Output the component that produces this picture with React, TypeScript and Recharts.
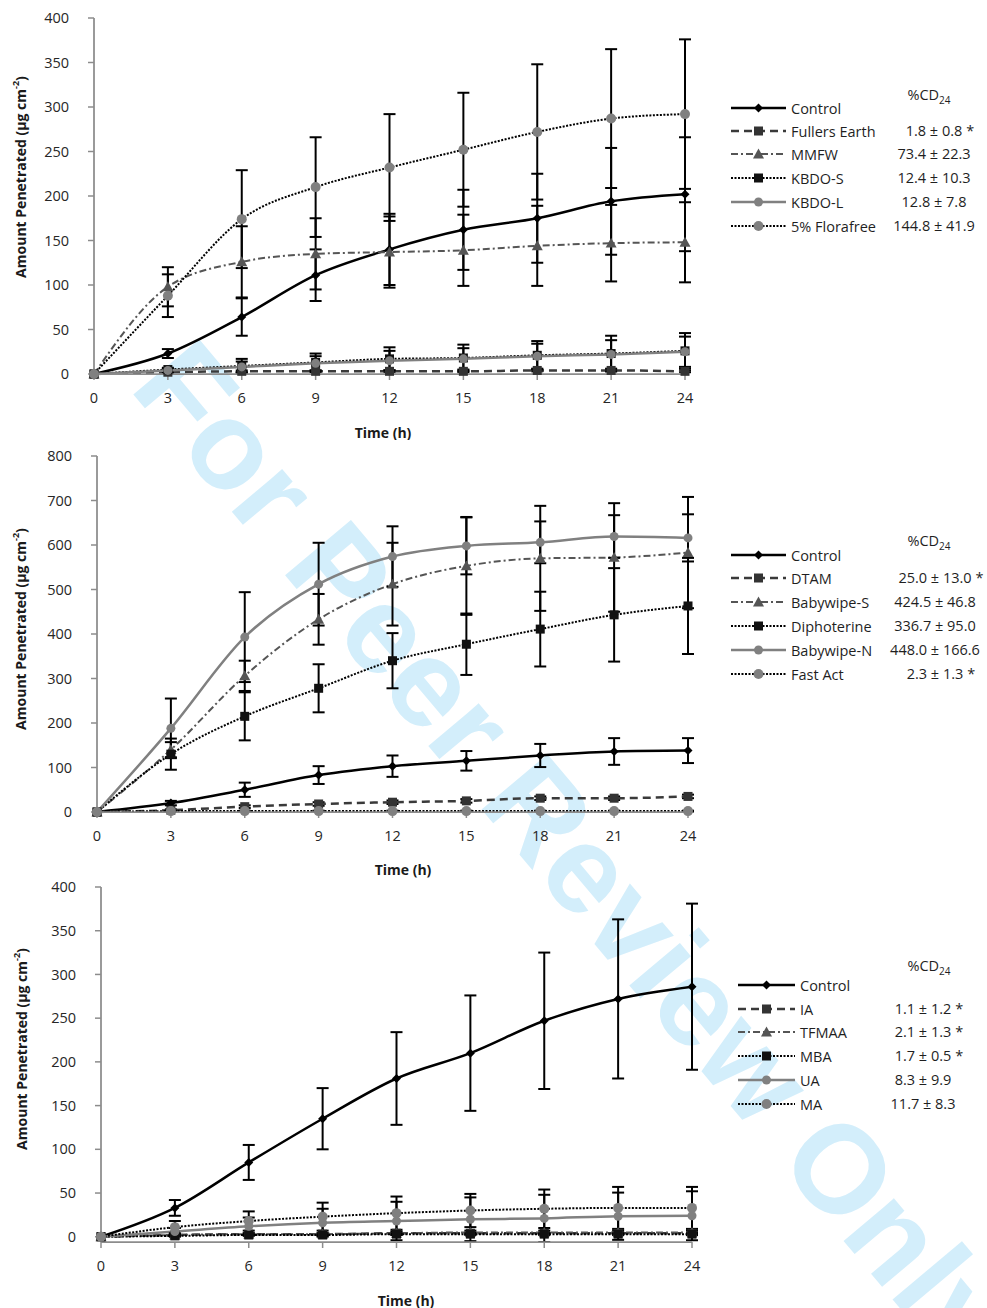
import React from 'react';
import { LineChart, Line, XAxis, YAxis, ErrorBar } from 'recharts';

const hours = [0, 3, 6, 9, 12, 15, 18, 21, 24];

// top panel
const aNames = ['Control', 'Fullers Earth', 'MMFW', 'KBDO-S', 'KBDO-L', '5% Florafree'];
const aCd = ['', '1.8 ± 0.8', '73.4 ± 22.3', '12.4 ± 10.3', '12.8 ± 7.8', '144.8 ± 41.9'];
const aStar = [false, true, false, false, false, false];
const aControl = [0, 23, 64, 111, 140, 162, 175, 194, 202];
const aControlSd = [0, 5, 21, 29, 40, 45, 50, 60, 64];
const aFullers = [0, 2, 3, 3, 3, 3, 4, 4, 3];
const aFullersSd = [0, 1, 1, 1, 1, 1, 1, 1, 1];
const aMmfw = [0, 98, 126, 135, 137, 139, 144, 147, 148];
const aMmfwSd = [0, 22, 40, 40, 40, 40, 45, 43, 45];
const aKbdoS = [0, 5, 9, 13, 17, 18, 21, 23, 26];
const aKbdoSSd = [0, 2, 8, 10, 13, 15, 16, 20, 20];
const aKbdoL = [0, 4, 8, 12, 15, 17, 20, 22, 25];
const aKbdoLSd = [0, 2, 6, 8, 11, 12, 14, 16, 17];
const aFlora = [0, 88, 174, 210, 232, 252, 272, 287, 292];
const aFloraSd = [0, 24, 55, 56, 60, 64, 76, 78, 84];
const aTicks = [0, 50, 100, 150, 200, 250, 300, 350, 400];

// middle panel
const bNames = ['Control', 'DTAM', 'Babywipe-S', 'Diphoterine', 'Babywipe-N', 'Fast Act'];
const bCd = ['', '25.0 ± 13.0', '424.5 ± 46.8', '336.7 ± 95.0', '448.0 ± 166.6', '2.3 ± 1.3'];
const bStar = [false, true, false, false, false, true];
const bControl = [0, 20, 50, 83, 103, 115, 127, 136, 138];
const bControlSd = [0, 5, 16, 20, 24, 22, 26, 30, 28];
const bDtam = [0, 4, 12, 18, 22, 25, 31, 31, 35];
const bDtamSd = [0, 2, 3, 4, 4, 4, 4, 4, 4];
const bBabyS = [0, 140, 306, 433, 512, 553, 570, 572, 583];
const bBabySSd = [0, 17, 34, 57, 93, 110, 118, 122, 125];
const bDipho = [0, 130, 215, 278, 340, 377, 411, 443, 463];
const bDiphoSd = [0, 35, 54, 54, 62, 69, 84, 105, 108];
const bBabyN = [0, 188, 393, 512, 574, 598, 606, 619, 616];
const bBabyNSd = [0, 67, 101, 93, 68, 64, 47, 48, 53];
const bFast = [0, 2, 2, 2, 2, 2, 2, 2, 2];
const bFastSd = [0, 1, 1, 1, 1, 1, 1, 1, 1];
const bTicks = [0, 100, 200, 300, 400, 500, 600, 700, 800];

// bottom panel
const cNames = ['Control', 'IA', 'TFMAA', 'MBA', 'UA', 'MA'];
const cCd = ['', '1.1 ± 1.2', '2.1 ± 1.3', '1.7 ± 0.5', '8.3 ± 9.9', '11.7 ± 8.3'];
const cStar = [false, true, true, true, false, false];
const cControl = [0, 33, 85, 135, 181, 210, 247, 272, 286];
const cControlSd = [0, 9, 20, 35, 53, 66, 78, 91, 95];
const cIa = [0, 2, 3, 3, 4, 4, 4, 4, 4];
const cIaSd = [0, 1, 1, 1, 1, 1, 1, 1, 1];
const cTfmaa = [0, 2, 3, 3, 4, 5, 5, 5, 5];
const cTfmaaSd = [0, 1, 1, 1, 2, 2, 2, 2, 2];
const cMba = [0, 1, 2, 2, 3, 3, 3, 3, 3];
const cMbaSd = [0, 1, 1, 1, 1, 1, 1, 1, 1];
const cUa = [0, 6, 12, 16, 18, 20, 21, 23.5, 24];
const cUaSd = [0, 4, 10, 16, 22, 25, 27, 27, 28];
const cMa = [0, 11, 18, 23, 27, 30, 32, 33, 33];
const cMaSd = [0, 7, 11, 16, 19, 19, 22, 24, 24];
const cTicks = aTicks;

// same six line styles in every panel
const styles = [
    { stroke: '#000000', width: 2.5, dash: undefined, shape: 'diamond', fill: '#000000', size: 4.5 },
    { stroke: '#3a3a3a', width: 2.5, dash: '8 5', shape: 'square', fill: '#333333', size: 4.5 },
    { stroke: '#555555', width: 2, dash: '7 3 2 3', shape: 'triangle', fill: '#555555', size: 5.5 },
    { stroke: '#000000', width: 2, dash: '2 1.5', shape: 'square', fill: '#111111', size: 4.5 },
    { stroke: '#808080', width: 2.5, dash: undefined, shape: 'circle', fill: '#808080', size: 4.5 },
    { stroke: '#000000', width: 2, dash: '2 1.5', shape: 'circle', fill: '#808080', size: 5 },
];

const drawMarker = (shape: string, cx: number, cy: number, fill: string, s: number, key?: any) => {
    if (shape === 'diamond') {
        return <path key={key} d={`M${cx},${cy - s}L${cx + s},${cy}L${cx},${cy + s}L${cx - s},${cy}Z`} fill={fill} />;
    }
    if (shape === 'square') {
        return <rect key={key} x={cx - s} y={cy - s} width={2 * s} height={2 * s} fill={fill} />;
    }
    if (shape === 'triangle') {
        return <path key={key} d={`M${cx},${cy - s}L${cx + s},${cy + s * 0.8}L${cx - s},${cy + s * 0.8}Z`} fill={fill} />;
    }
    return <circle key={key} cx={cx} cy={cy} r={s} fill={fill} />;
};

const dotFor = (st: any) => (props: any) => {
    const { cx, cy, index } = props;
    if (cx == null || cy == null) return <g key={`d-${index}`} />;
    return drawMarker(st.shape, cx, cy, st.fill, st.size, `d-${index}`);
};

const buildRows = (means: number[][], sds: number[][]) =>
    hours.map((t, i) => {
        const row: any = { t };
        means.forEach((m, k) => {
            row['s' + k] = m[i];
            row['e' + k] = i === 0 ? null : sds[k][i];
        });
        return row;
    });

const panels = [
    {
        top: 0, height: 440, margin: { top: 18, right: 302, bottom: 36, left: 34 },
        yMax: 400, yTicks: aTicks, names: aNames, cd: aCd, star: aStar,
        means: [aControl, aFullers, aMmfw, aKbdoS, aKbdoL, aFlora],
        sds: [aControlSd, aFullersSd, aMmfwSd, aKbdoSSd, aKbdoLSd, aFloraSd],
        yTitle: [20, 177], xTitle: [383, 432],
        legendY: [108, 131, 154, 178, 202, 226], headY: 96,
        sampleX: 731, sampleW: 55, valueX: 934,
    },
    {
        top: 440, height: 440, margin: { top: 16, right: 299, bottom: 38, left: 37 },
        yMax: 800, yTicks: bTicks, names: bNames, cd: bCd, star: bStar,
        means: [bControl, bDtam, bBabyS, bDipho, bBabyN, bFast],
        sds: [bControlSd, bDtamSd, bBabySSd, bDiphoSd, bBabyNSd, bFastSd],
        yTitle: [20, 189], xTitle: [403, 429],
        legendY: [555, 578, 602, 626, 650, 674], headY: 542,
        sampleX: 731, sampleW: 55, valueX: 935,
    },
    {
        top: 870, height: 438, margin: { top: 17, right: 295, bottom: 36, left: 41 },
        yMax: 400, yTicks: cTicks, names: cNames, cd: cCd, star: cStar,
        means: [cControl, cIa, cTfmaa, cMba, cUa, cMa],
        sds: [cControlSd, cIaSd, cTfmaaSd, cMbaSd, cUaSd, cMaSd],
        yTitle: [21, 179], xTitle: [406, 430],
        legendY: [985, 1009, 1032, 1056, 1080, 1104], headY: 967,
        sampleX: 738, sampleW: 57, valueX: 923,
    },
];

const axisLine = { stroke: '#8c8c8c', strokeWidth: 1.75 };
const tickLine = { stroke: '#8c8c8c', strokeWidth: 1.5 };
const tickFont = { fill: '#262626', fontSize: 14.5 };

const Legend = ({ p }: any) => (
    <>
        <div style={{ position: 'absolute', left: 929 - 100, top: p.headY - p.top - 11, width: 200, fontSize: 14.5, whiteSpace: 'nowrap', textAlign: 'center', color: '#1f1f1f' }}>
            %CD<sub style={{ fontSize: 10 }}>24</sub>
        </div>
        {p.names.map((name: string, k: number) => {
            const st = styles[k];
            const y = p.legendY[k] - p.top;
            return (
                <React.Fragment key={name}>
                    <div style={{ position: 'absolute', left: p.sampleX, top: y - 10, height: 20, display: 'flex', alignItems: 'center', whiteSpace: 'nowrap', fontSize: 14.5, color: '#1f1f1f' }}>
                        <svg width={p.sampleW} height={14} style={{ display: 'block' }}>
                            <line x1={0} y1={7} x2={p.sampleW} y2={7} stroke={st.stroke} strokeWidth={st.width} strokeDasharray={st.dash} />
                            {drawMarker(st.shape, p.sampleW / 2, 7, st.fill, st.size)}
                        </svg>
                        <span style={{ marginLeft: 5 }}>{name}</span>
                    </div>
                    {p.cd[k] && (
                        <div style={{ position: 'absolute', left: p.valueX - 80, width: 160, top: y - 10, height: 20, lineHeight: '20px', textAlign: 'center', fontSize: 14.5, color: '#1f1f1f', whiteSpace: 'nowrap' }}>
                            <span style={{ position: 'relative' }}>
                                {p.cd[k]}
                                {p.star[k] && <span style={{ position: 'absolute', left: '100%', paddingLeft: 4 }}>*</span>}
                            </span>
                        </div>
                    )}
                </React.Fragment>
            );
        })}
    </>
);

const Panel = ({ p }: any) => {
    const rows = buildRows(p.means, p.sds);
    const [tx, ty] = p.yTitle;
    const [hx, hy] = p.xTitle;
    return (
        <div style={{ position: 'absolute', left: 0, top: p.top, width: 987, height: p.height }}>
            <LineChart width={987} height={p.height} data={rows} margin={p.margin}>
                <XAxis
                    type="number"
                    dataKey="t"
                    domain={[0, 24]}
                    ticks={hours}
                    height={30}
                    tickSize={6}
                    tickMargin={13}
                    axisLine={axisLine}
                    tickLine={tickLine}
                    tick={tickFont}
                    label={() => (
                        <text x={hx} y={hy} textAnchor="middle" dominantBaseline="central" fontWeight="bold" fontSize={14} fill="#1a1a1a">
                            Time (h)
                        </text>
                    )}
                />
                <YAxis
                    type="number"
                    domain={[0, p.yMax]}
                    ticks={p.yTicks}
                    width={60}
                    tickSize={6}
                    tickMargin={19}
                    axisLine={axisLine}
                    tickLine={tickLine}
                    tick={tickFont}
                    label={() => (
                        <text x={tx} y={ty} transform={`rotate(-90, ${tx}, ${ty})`} textAnchor="middle" dominantBaseline="central" fontWeight="bold" fontSize={14} fill="#1a1a1a">
                            Amount Penetrated (µg cm<tspan dy={-5} fontSize={9}>-2</tspan><tspan dy={5}>)</tspan>
                        </text>
                    )}
                />
                {styles.map((st, k) => (
                    <Line
                        key={k}
                        type="monotone"
                        dataKey={'s' + k}
                        stroke={st.stroke}
                        strokeWidth={st.width}
                        strokeDasharray={st.dash}
                        dot={dotFor(st)}
                        activeDot={false}
                        isAnimationActive={false}
                    >
                        <ErrorBar dataKey={'e' + k} direction="y" width={6} stroke="#000" strokeWidth={2} />
                    </Line>
                ))}
            </LineChart>
            <Legend p={p} />
        </div>
    );
};

export default function App() {
    return (
        <div style={{ position: 'absolute', left: 0, top: 0, width: 987, height: 1308, background: '#fff', fontFamily: "'Open Sans', sans-serif", overflow: 'hidden' }}>
            <svg width={987} height={1308} style={{ position: 'absolute', left: 0, top: 0 }}>
                <text x={128} y={388} transform="rotate(50, 128, 388)" fontFamily="'Liberation Sans', Arial, sans-serif" fontWeight="bold" fontSize={125} fill="#d3eefb">
                    For Peer Review Only
                </text>
            </svg>
            {panels.map((p, i) => (
                <Panel key={i} p={p} />
            ))}
        </div>
    );
}
